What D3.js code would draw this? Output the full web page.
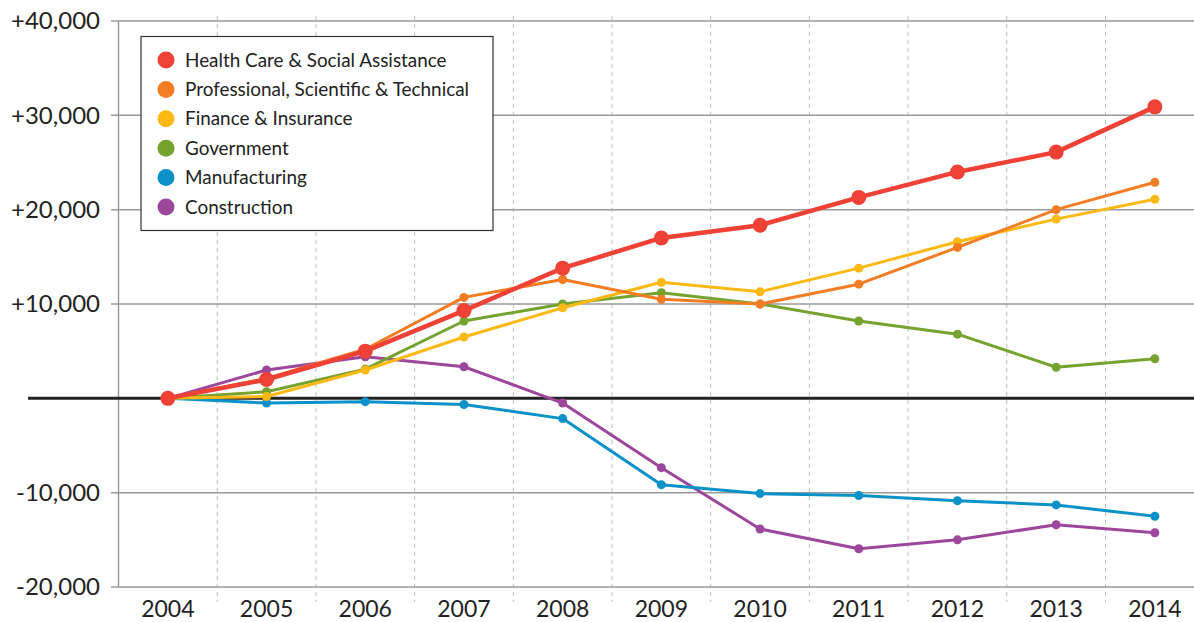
<!DOCTYPE html>
<meta charset="utf-8">
<script src="https://cdn.jsdelivr.net/npm/d3@7"></script>
<style>
body { margin: 0; background: #fff; }
text { font-family: Lato, "Open Sans", sans-serif; fill: #222; }
.grid line { stroke: #9a9a9a; stroke-width: 1.5px; }
.vgrid line { stroke: #bdbdbd; stroke-width: 1px; stroke-dasharray: 4,4; }
.line { fill: none; stroke-linejoin: round; }
</style>
<body>
<script>

var years = [2004, 2005, 2006, 2007, 2008, 2009, 2010, 2011, 2012, 2013, 2014];
var yTicks = [-20000, -10000, 0, 10000, 20000, 30000, 40000];

var healthCare   = [0, 2000, 5000, 9300, 13800, 17000, 18350, 21300, 24000, 26100, 30900];
var professional = [0, 2100, 5200, 10700, 12600, 10500, 10000, 12100, 16000, 20000, 22900];
var finance      = [0, 200, 3000, 6500, 9600, 12300, 11300, 13800, 16600, 19000, 21100];
var government   = [0, 700, 3100, 8200, 10000, 11200, 10000, 8200, 6800, 3300, 4200];
var manufacturing = [0, -500, -350, -650, -2150, -9150, -10100, -10300, -10850, -11300, -12500];
var construction = [0, 3000, 4400, 3350, -500, -7350, -13850, -15950, -15000, -13400, -14250];

var seriesNames = ["Health Care & Social Assistance", "Professional, Scientific & Technical",
  "Finance & Insurance", "Government", "Manufacturing", "Construction"];
var seriesValues = [healthCare, professional, finance, government, manufacturing, construction];
var colors = ["#ef4136", "#f47d23", "#fdb913", "#76a22f", "#0a91c8", "#9c479c"];

var width = 1194, height = 622;

var svg = d3.select("body").append("svg")
    .attr("width", width)
    .attr("height", height);

var x = d3.scaleBand()
    .domain(years)
    .range([118.5, 118.5 + 98.7 * years.length])
    .padding(0);

var y = d3.scaleLinear()
    .domain([-20000, 40000])
    .range([587, 21]);

function cx(yr) { return x(yr) + x.bandwidth() / 2; }

// dashed year separators
svg.append("g")
    .attr("class", "vgrid")
    .selectAll("line")
    .data(years.slice(1))
    .enter().append("line")
    .attr("x1", function(d) { return x(d); })
    .attr("x2", function(d) { return x(d); })
    .attr("y1", 16)
    .attr("y2", 602);

// horizontal grid + y labels
var fmt = d3.format(",");
var grid = svg.append("g").attr("class", "grid");
grid.selectAll("line")
    .data(yTicks.filter(function(d) { return d !== 0; }))
    .enter().append("line")
    .attr("x1", 111)
    .attr("x2", width)
    .attr("y1", function(d) { return y(d); })
    .attr("y2", function(d) { return y(d); });

grid.append("line")
    .attr("x1", 118.5).attr("x2", 118.5)
    .attr("y1", y(40000)).attr("y2", y(-20000));

svg.append("g")
    .selectAll("text")
    .data(yTicks.filter(function(d) { return d !== 0; }))
    .enter().append("text")
    .attr("x", 100)
    .attr("y", function(d) { return y(d); })
    .attr("dy", "0.35em")
    .attr("text-anchor", "end")
    .style("font-size", "24px")
    .text(function(d) { return (d > 0 ? "+" : "-") + fmt(Math.abs(d)); });

// x labels
svg.append("g")
    .selectAll("text")
    .data(years)
    .enter().append("text")
    .attr("x", function(d) { return cx(d); })
    .attr("y", 617)
    .attr("text-anchor", "middle")
    .style("font-size", "23px")
    .text(function(d) { return d; });

// zero line
svg.append("line")
    .attr("x1", 28).attr("x2", width)
    .attr("y1", y(0)).attr("y2", y(0))
    .style("stroke", "#222")
    .style("stroke-width", 3);

// series, drawn bottom-up so Health Care sits on top
var line = d3.line()
    .x(function(d, i) { return cx(years[i]); })
    .y(function(d) { return y(d); });

for (var s = seriesValues.length - 1; s >= 0; s--) {
  var big = s === 0;
  var g = svg.append("g");
  g.append("path")
      .datum(seriesValues[s])
      .attr("class", "line")
      .attr("d", line)
      .style("stroke", colors[s])
      .style("stroke-width", big ? 4.5 : 3);
  g.selectAll("circle")
      .data(seriesValues[s])
      .enter().append("circle")
      .attr("cx", function(d, i) { return cx(years[i]); })
      .attr("cy", function(d) { return y(d); })
      .attr("r", big ? 7.5 : 4.5)
      .style("fill", colors[s]);
}

// legend
var legend = svg.append("g");
legend.append("rect")
    .attr("x", 141).attr("y", 36.5)
    .attr("width", 352).attr("height", 194)
    .style("fill", "#fff")
    .style("stroke", "#333")
    .style("stroke-width", 1.2);

var item = legend.selectAll("g.item")
    .data(seriesNames)
    .enter().append("g")
    .attr("class", "item")
    .attr("transform", function(d, i) { return "translate(166," + (60 + i * 29.4) + ")"; });

item.append("circle")
    .attr("r", 8.5)
    .style("fill", function(d, i) { return colors[i]; });

item.append("text")
    .attr("x", 19)
    .attr("dy", "0.35em")
    .style("font-size", "18.9px")
    .text(function(d) { return d; });

</script>
</body>
